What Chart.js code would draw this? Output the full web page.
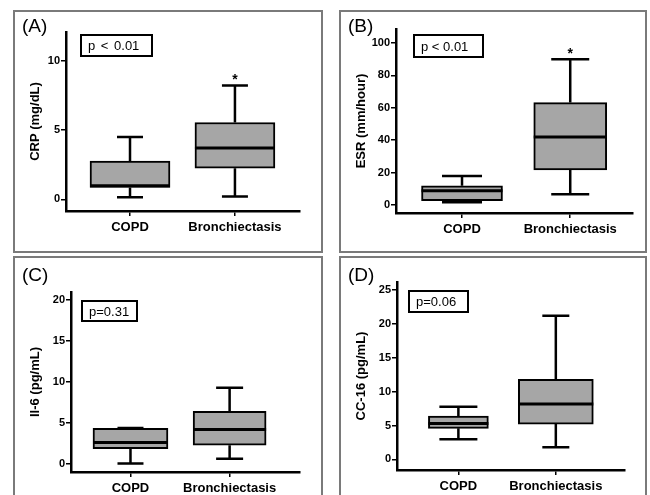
<!DOCTYPE html>
<html>
<head>
<meta charset="utf-8">
<script src="https://cdn.jsdelivr.net/npm/chart.js@4.4.1/dist/chart.umd.min.js"></script>
<style>
  html, body { margin: 0; padding: 0; background: #fff; }
  body { width: 650px; height: 495px; position: relative; overflow: hidden;
         font-family: 'Liberation Sans', Arial, sans-serif; }
  canvas { position: absolute; }
  .frame { position: absolute; border: 2px solid #7a7a7a; box-sizing: border-box; pointer-events: none; }
  .tag { position: absolute; font-size: 19px; line-height: 19px; color: #000; }
  .pbox { position: absolute; border: 2px solid #000; box-sizing: border-box; background: #fff;
          font-size: 13px; color: #000; padding-left: 6px; display: flex; align-items: center; }
</style>
</head>
<body>
<script>
// ---- data ----
const categories = ['COPD', 'Bronchiectasis'];
const xPositions = [1, 2];

// (A) CRP
const crpLow = [0.14, 0.19];
const crpQ1 = [0.85, 2.25];
const crpMedian = [0.98, 3.7];
const crpQ3 = [2.77, 5.55];
const crpHigh = [4.5, 8.23];
const crpTicks = [0, 5, 10];

// (B) ESR
const esrLow = [1.8, 6.6];
const esrQ1 = [2.7, 21.6];
const esrMedian = [8.8, 42];
const esrQ3 = [11.9, 63.2];
const esrHigh = [17.9, 89.9];
const esrTicks = [0, 20, 40, 60, 80, 100];

// (C) Il-6
const il6Low = [0, 0.6];
const il6Q1 = [1.84, 2.24];
const il6Median = [2.57, 4.16];
const il6Q3 = [4.3, 6.4];
const il6High = [4.36, 9.27];
const il6Ticks = [0, 5, 10, 15, 20];

// (D) CC-16
const cc16Low = [2.95, 1.77];
const cc16Q1 = [4.58, 5.2];
const cc16Median = [5.3, 8.17];
const cc16Q3 = [6.4, 11.8];
const cc16High = [7.77, 21.2];
const cc16Ticks = [0, 5, 10, 15, 20, 25];

// ---- panels (layout + data refs) ----
const panels = [
  { tag: '(A)', pText: 'p < 0.01', title: 'CRP (mg/dL)', stars: ['', '*'],
    low: crpLow, q1: crpQ1, median: crpMedian, q3: crpQ3, high: crpHigh, ticks: crpTicks,
    yMin: -0.85, yMax: 12.1, xMin: 0.39, xMax: 2.62,
    fx: 14, fy: 11, w: 308, h: 241, area: { l: 52, t: 21, r: 22, b: 41 },
    boxW: [80, 80], capW: [26, 26],
    frame: [13, 10, 310, 243], tagPos: [22, 16], pBox: [80, 34, 73, 23], wordSpacing: 2 },
  { tag: '(B)', pText: 'p < 0.01', title: 'ESR (mm/hour)', stars: ['', '*'],
    low: esrLow, q1: esrQ1, median: esrMedian, q3: esrQ3, high: esrHigh, ticks: esrTicks,
    yMin: -4.9, yMax: 108.6, xMin: 0.39, xMax: 2.58,
    fx: 340, fy: 11, w: 306, h: 241, area: { l: 56, t: 18, r: 13, b: 39 },
    boxW: [81, 73], capW: [40, 38],
    frame: [339, 10, 308, 243], tagPos: [348, 16], pBox: [413, 34, 71, 24], wordSpacing: 0 },
  { tag: '(C)', pText: 'p=0.31', title: 'Il-6 (pg/mL)', stars: ['', ''],
    low: il6Low, q1: il6Q1, median: il6Median, q3: il6Q3, high: il6High, ticks: il6Ticks,
    yMin: -1.03, yMax: 21.0, xMin: 0.40, xMax: 2.71,
    fx: 14, fy: 257, w: 308, h: 238, area: { l: 57, t: 35, r: 22, b: 23 },
    boxW: [75, 73], capW: [26, 27],
    frame: [13, 256, 310, 250], tagPos: [22, 265], pBox: [81, 300, 57, 22], wordSpacing: 0 },
  { tag: '(D)', pText: 'p=0.06', title: 'CC-16 (pg/mL)', stars: ['', ''],
    low: cc16Low, q1: cc16Q1, median: cc16Median, q3: cc16Q3, high: cc16High, ticks: cc16Ticks,
    yMin: -1.58, yMax: 26.2, xMin: 0.37, xMax: 2.71,
    fx: 340, fy: 257, w: 306, h: 238, area: { l: 57, t: 25, r: 21, b: 25 },
    boxW: [60, 75], capW: [38, 27],
    frame: [339, 256, 308, 250], tagPos: [348, 265], pBox: [408, 290, 61, 23], wordSpacing: 0 }
];

Chart.defaults.font.family = "'Liberation Sans', Arial, sans-serif";
Chart.defaults.color = '#000';

// whiskers, medians and significance marks, placed through the chart scales
const boxWhiskers = {
  id: 'boxWhiskers',
  beforeDatasetsDraw(chart, args, opts) {
    const { ctx } = chart;
    const x = chart.scales.x, y = chart.scales.y;
    ctx.save();
    ctx.strokeStyle = '#000';
    ctx.lineWidth = 2.5;
    opts.low.forEach((lo, i) => {
      const px = x.getPixelForValue(xPositions[i]);
      const half = opts.capW[i] / 2;
      const yLo = y.getPixelForValue(lo);
      const yHi = y.getPixelForValue(opts.high[i]);
      const yQ1 = y.getPixelForValue(opts.q1[i]);
      const yQ3 = y.getPixelForValue(opts.q3[i]);
      ctx.beginPath();
      ctx.moveTo(px, yQ1); ctx.lineTo(px, yLo);
      ctx.moveTo(px, yQ3); ctx.lineTo(px, yHi);
      ctx.moveTo(px - half, yLo); ctx.lineTo(px + half, yLo);
      ctx.moveTo(px - half, yHi); ctx.lineTo(px + half, yHi);
      ctx.stroke();
    });
    ctx.restore();
  },
  afterDatasetsDraw(chart, args, opts) {
    const { ctx } = chart;
    const x = chart.scales.x, y = chart.scales.y;
    ctx.save();
    ctx.strokeStyle = '#000';
    ctx.lineWidth = 3;
    opts.median.forEach((m, i) => {
      const bar = chart.getDatasetMeta(i).data[0];
      const ym = y.getPixelForValue(m);
      ctx.beginPath();
      ctx.moveTo(bar.x - bar.width / 2, ym);
      ctx.lineTo(bar.x + bar.width / 2, ym);
      ctx.stroke();
      if (opts.stars[i]) {
        ctx.fillStyle = '#000';
        ctx.font = "bold 14px 'Liberation Sans', Arial, sans-serif";
        ctx.textAlign = 'center';
        ctx.textBaseline = 'middle';
        ctx.fillText(opts.stars[i], x.getPixelForValue(xPositions[i]), y.getPixelForValue(opts.high[i]) - 5);
      }
    });
    ctx.restore();
  }
};

const axisLine = { display: true, color: '#000', width: 2.5 };
const tickMarks = { display: true, drawOnChartArea: false, drawTicks: true, tickLength: 5,
                    color: '#000', lineWidth: 1.5, offset: false };

panels.forEach(p => {
  const canvas = document.createElement('canvas');
  canvas.width = p.w;
  canvas.height = p.h;
  canvas.style.left = p.fx + 'px';
  canvas.style.top = p.fy + 'px';
  document.body.appendChild(canvas);

  const frame = document.createElement('div');
  frame.className = 'frame';
  Object.assign(frame.style, { left: p.frame[0] + 'px', top: p.frame[1] + 'px',
                               width: p.frame[2] + 'px', height: p.frame[3] + 'px' });
  document.body.appendChild(frame);

  const tag = document.createElement('div');
  tag.className = 'tag';
  tag.textContent = p.tag;
  tag.style.left = p.tagPos[0] + 'px';
  tag.style.top = p.tagPos[1] + 'px';
  document.body.appendChild(tag);

  const pb = document.createElement('div');
  pb.className = 'pbox';
  pb.textContent = p.pText;
  Object.assign(pb.style, { left: p.pBox[0] + 'px', top: p.pBox[1] + 'px',
                            width: p.pBox[2] + 'px', height: p.pBox[3] + 'px',
                            wordSpacing: p.wordSpacing + 'px' });
  document.body.appendChild(pb);

  new Chart(canvas, {
    type: 'bar',
    data: {
      datasets: categories.map((c, i) => ({
        label: c,
        data: [{ x: xPositions[i], y: [p.q1[i], p.q3[i]] }],
        backgroundColor: '#a6a6a6',
        borderColor: '#000',
        borderWidth: 2,
        borderSkipped: false,
        grouped: false,
        barPercentage: 1,
        categoryPercentage: 1,
        maxBarThickness: p.boxW[i]
      }))
    },
    options: {
      responsive: false,
      animation: false,
      events: [],
      layout: { padding: { left: 0, top: p.area.t, right: p.area.r, bottom: 0 } },
      plugins: {
        legend: { display: false },
        tooltip: { enabled: false },
        boxWhiskers: { low: p.low, q1: p.q1, median: p.median, q3: p.q3, high: p.high,
                       capW: p.capW, stars: p.stars }
      },
      scales: {
        x: {
          type: 'linear',
          min: p.xMin,
          max: p.xMax,
          offset: false,
          afterBuildTicks: s => { s.ticks = xPositions.map(v => ({ value: v })); },
          afterFit: s => { s.height = p.area.b; },
          grid: tickMarks,
          border: axisLine,
          ticks: {
            color: '#000',
            padding: 4,
            autoSkip: false,
            maxRotation: 0,
            font: { size: 13, weight: 'bold' },
            callback: v => categories[xPositions.indexOf(v)] || ''
          }
        },
        y: {
          type: 'linear',
          min: p.yMin,
          max: p.yMax,
          afterBuildTicks: s => { s.ticks = p.ticks.map(v => ({ value: v })); },
          afterFit: s => { s.width = p.area.l; },
          grid: tickMarks,
          border: axisLine,
          ticks: { color: '#000', padding: 1, font: { size: 11, weight: 'bold' } },
          title: {
            display: true,
            text: p.title,
            color: '#000',
            font: { size: 13, weight: 'bold' },
            padding: { top: 14, bottom: 0 }
          }
        }
      }
    },
    plugins: [boxWhiskers]
  });
});
</script>
</body>
</html>
